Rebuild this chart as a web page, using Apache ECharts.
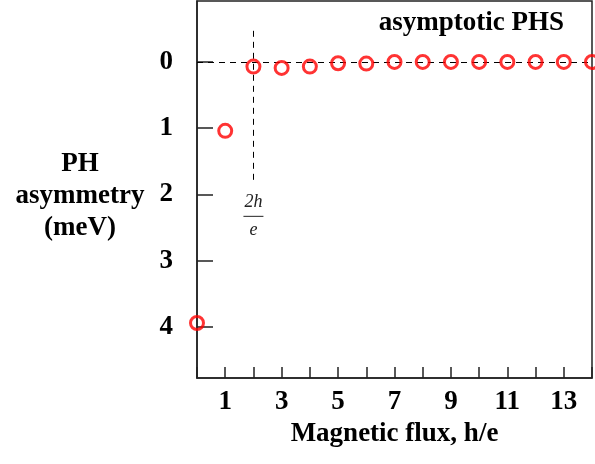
<!DOCTYPE html>
<html>
<head>
<meta charset="utf-8">
<script src="https://cdn.jsdelivr.net/npm/echarts@6/dist/echarts.min.js"></script>
<style>
  html, body { margin: 0; padding: 0; background: #fff; }
  #main { width: 595px; height: 464px; }
</style>
</head>
<body>
<div id="main"></div>
<script>
// data
var fluxValues = [0, 1, 2, 3, 4, 5, 6, 7, 8, 9, 10, 11, 12, 13, 14];
var asymValues = [3.94, 1.04, 0.07, 0.09, 0.07, 0.02, 0.025, 0, 0, 0, 0, 0, 0, 0, 0];
var yTicks = [0, 1, 2, 3, 4];
var yNameLines = ['PH', 'asymmetry', '(meV)'];
var refLineY = 0;
var markerX = 2;
var markerSpan = [-0.47, 1.83];
var markerLabelY = 2.33;

var serif = '"Liberation Serif", "DejaVu Serif", serif';
var axisColor = '#222';
var bigFont = 27;

var points = fluxValues.map(function (x, i) { return [x, asymValues[i]]; });

// y-axis name, one centred line each
var nameGraphics = yNameLines.map(function (t, i) {
    return {
        type: 'text',
        x: 80,
        y: 164 + i * 32,
        style: {
            text: t,
            align: 'center',
            verticalAlign: 'middle',
            textAlign: 'center',
            textVerticalAlign: 'middle',
            font: 'bold ' + bigFont + 'px ' + serif,
            fill: '#000'
        }
    };
});

var myChart = echarts.init(document.getElementById('main'));
var option = {
    animation: false,
    backgroundColor: '#fff',
    title: {
        text: 'asymptotic PHS',
        right: 26,
        top: 5,
        textStyle: { fontFamily: serif, fontWeight: 'bold', fontSize: bigFont, color: '#000' }
    },
    graphic: nameGraphics,
    grid: {
        left: 197, right: 2, top: 1, bottom: 86,
        show: true, borderColor: axisColor, borderWidth: 1.5
    },
    xAxis: {
        type: 'value',
        min: 0, max: 14, interval: 1,
        name: 'Magnetic flux, h/e',
        nameLocation: 'middle',
        nameGap: 38,
        nameTextStyle: { fontFamily: serif, fontWeight: 'bold', fontSize: bigFont, color: '#000' },
        axisLine: { onZero: false, lineStyle: { color: axisColor, width: 1.5 } },
        axisTick: { inside: true, length: 11, lineStyle: { color: axisColor, width: 1.5 } },
        axisLabel: {
            margin: 11,
            fontFamily: serif, fontWeight: 'bold', fontSize: bigFont, color: '#000',
            formatter: function (v) { return (v % 2 === 1) ? String(v) : ''; }
        },
        splitLine: { show: false }
    },
    yAxis: {
        type: 'value',
        inverse: true,
        min: -0.92, max: 4.77,
        axisLine: { onZero: false, lineStyle: { color: axisColor, width: 1.5 } },
        axisTick: { inside: true, length: 16, customValues: yTicks, lineStyle: { color: axisColor, width: 1.5 } },
        axisLabel: {
            margin: 24, customValues: yTicks,
            fontFamily: serif, fontWeight: 'bold', fontSize: bigFont, color: '#000'
        },
        splitLine: { show: false }
    },
    series: [{
        type: 'scatter',
        data: points,
        clip: false,
        symbol: 'circle',
        symbolSize: 13,
        itemStyle: { color: 'transparent', borderColor: '#f00', borderWidth: 3 },
        z: 5,
        markLine: {
            silent: true,
            symbol: 'none',
            label: { show: false },
            lineStyle: { color: '#000', type: [6, 5], width: 1 },
            data: [
                { yAxis: refLineY },
                [{ coord: [markerX, markerSpan[0]] }, { coord: [markerX, markerSpan[1]] }]
            ]
        },
        markPoint: {
            silent: true,
            symbol: 'circle',
            symbolSize: 0,
            data: [{ coord: [markerX, markerLabelY] }],
            label: {
                show: true,
                position: 'inside',
                formatter: '{n|2h}\n{bar|}\n{d|e}',
                rich: {
                    n: { fontFamily: serif, fontStyle: 'italic', fontSize: 18, color: '#222', align: 'center', lineHeight: 22 },
                    bar: { width: 20, height: 1, backgroundColor: '#222', align: 'center', lineHeight: 6 },
                    d: { fontFamily: serif, fontStyle: 'italic', fontSize: 18, color: '#222', align: 'center', lineHeight: 22 }
                }
            }
        }
    }]
};
myChart.setOption(option);
</script>
</body>
</html>
